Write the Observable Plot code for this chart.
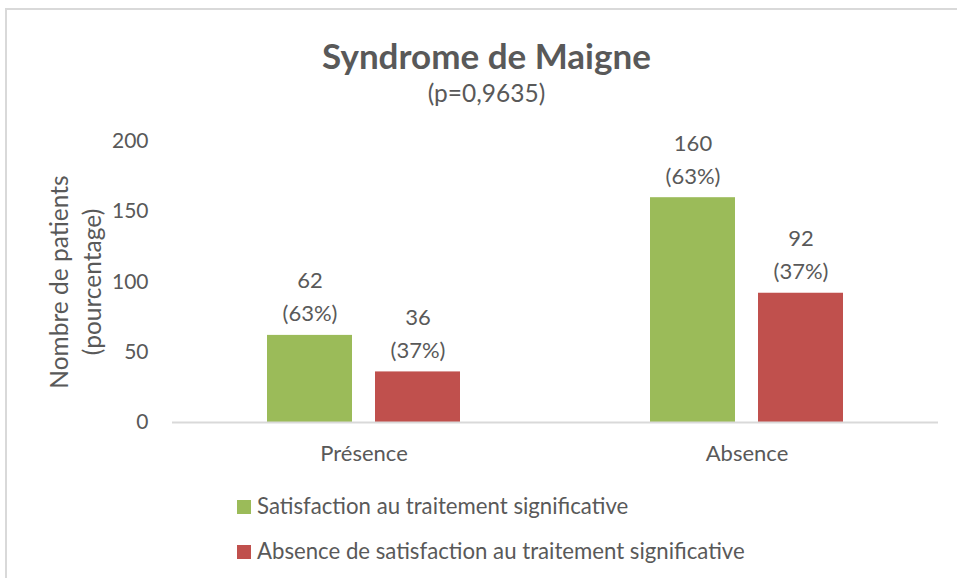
<!DOCTYPE html>
<html>
<head>
<meta charset="utf-8">
<script src="https://cdn.jsdelivr.net/npm/d3@7"></script>
<script src="https://cdn.jsdelivr.net/npm/@observablehq/plot@0.6"></script>
<style>
  html, body { margin: 0; padding: 0; background: #fff; }
  #root { position: relative; width: 957px; height: 578px; overflow: hidden; font-family: Lato, sans-serif; color: #595959; background: #fff; }
  #frame { position: absolute; left: 5px; top: 8px; width: 960px; height: 580px; border-left: 2px solid #D9D9D9; border-top: 2px solid #D9D9D9; box-sizing: border-box; }
  #title { position: absolute; left: 8px; width: 957px; top: 33px; text-align: center; font-size: 35px; font-weight: bold; line-height: 44px; }
  #subtitle { position: absolute; left: 8px; width: 957px; top: 78px; text-align: center; font-size: 24.5px; line-height: 30px; }
  #ylabel { position: absolute; left: 75px; top: 282px; transform: translate(-50%, -50%) rotate(-90deg); white-space: nowrap; text-align: center; font-size: 24.5px; line-height: 33px; }
  #chart { position: absolute; left: 0; top: 120px; }
  .leg { position: absolute; left: 237px; font-size: 22.2px; line-height: 26px; white-space: nowrap; }
  .leg span.sw { display: inline-block; width: 14px; height: 14px; margin-right: 6px; vertical-align: 0px; }
</style>
</head>
<body>
<div id="root">
  <div id="frame"></div>
  <div id="title"></div>
  <div id="subtitle"></div>
  <div id="ylabel"></div>
  <div id="chart"></div>
  <div id="legend"></div>
</div>
<script>
// ---- data ----
const titleText = "Syndrome de Maigne";
const subtitleText = "(p=0,9635)";
const yLabelLines = ["Nombre de patients", "(pourcentage)"];
const categories = ["Présence", "Absence"];
const seriesNames = ["Satisfaction au traitement significative", "Absence de satisfaction au traitement significative"];
const satisfactionValues = [62, 160];
const nonSatisfactionValues = [36, 92];
const satisfactionPct = ["63%", "63%"];
const nonSatisfactionPct = ["37%", "37%"];
const yTicks = [0, 50, 100, 150, 200];
const seriesColors = ["#9BBB59", "#C0504D"];

// ---- table ----
const rows = [];
categories.forEach((c, i) => {
  rows.push({cat: c, series: seriesNames[0], value: satisfactionValues[i], pct: satisfactionPct[i]});
  rows.push({cat: c, series: seriesNames[1], value: nonSatisfactionValues[i], pct: nonSatisfactionPct[i]});
});

document.getElementById("title").textContent = titleText;
document.getElementById("subtitle").textContent = subtitleText;
document.getElementById("ylabel").innerHTML = yLabelLines.map(s => `<div>${s}</div>`).join("");

const chart = Plot.plot({
  width: 957,
  height: 360,
  marginLeft: 172,
  marginRight: 19,
  marginTop: 21,
  marginBottom: 58,
  style: {fontFamily: "Lato, sans-serif", fontSize: "20px", color: "#595959", background: "transparent", overflow: "visible"},
  fx: {domain: categories, padding: 0, label: null},
  x: {domain: seriesNames, paddingInner: 0.211, paddingOuter: 0.8625, axis: null},
  y: {domain: [0, 200], label: null},
  color: {domain: seriesNames, range: seriesColors},
  marks: [
    Plot.barY(rows, {fx: "cat", x: "series", y: "value", fill: "series"}),
    Plot.ruleY([0], {stroke: "#D9D9D9", strokeWidth: 2}),
    Plot.text(rows, {fx: "cat", x: "series", y: "value", text: d => `${d.value}\n(${d.pct})`, lineAnchor: "bottom", lineHeight: 1.5, dy: -14, fontSize: 22}),
    Plot.axisY({ticks: yTicks, tickSize: 0, tickPadding: 24, label: null, fontSize: 21}),
    Plot.axisFx({anchor: "bottom", tickSize: 0, tickPadding: 23, label: null, fontSize: 22})
  ]
});
document.getElementById("chart").appendChild(chart);

const legend = document.getElementById("legend");
seriesNames.forEach((s, i) => {
  const d = document.createElement("div");
  d.className = "leg";
  d.style.top = (493 + i * 45) + "px";
  d.innerHTML = `<span class="sw" style="background:${seriesColors[i]}"></span>${s}`;
  legend.appendChild(d);
});
</script>
</body>
</html>
